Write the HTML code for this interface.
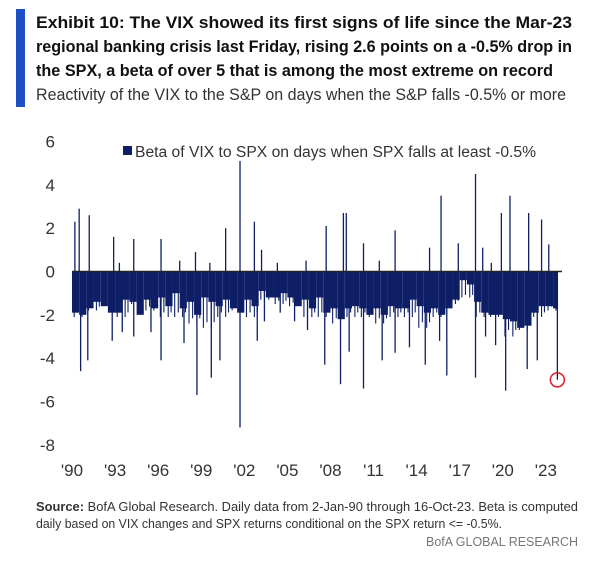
<!DOCTYPE html>
<html><head><meta charset="utf-8"><style>
html,body{margin:0;padding:0;background:#fff;}
svg{display:block;font-family:"Liberation Sans",sans-serif;}
</style></head><body>
<svg id="chart" width="615" height="564" viewBox="0 0 615 564">
<rect x="16" y="9" width="9" height="98" fill="#1f4fc4"/>
<g font-weight="bold" font-size="17" fill="#111">
<text x="36" y="28" textLength="536" lengthAdjust="spacingAndGlyphs">Exhibit 10: The VIX showed its first signs of life since the Mar-23</text>
<text x="36" y="52" textLength="536" lengthAdjust="spacingAndGlyphs">regional banking crisis last Friday, rising 2.6 points on a -0.5% drop in</text>
<text x="36" y="76" textLength="517" lengthAdjust="spacingAndGlyphs">the SPX, a beta of over 5 that is among the most extreme on record</text>
</g>
<text x="36" y="100" font-size="16.5" fill="#333" textLength="530" lengthAdjust="spacingAndGlyphs">Reactivity of the VIX to the S&amp;P on days when the S&amp;P falls -0.5% or more</text>
<g>
<rect x="123" y="146" width="9" height="9" fill="#0e1f66"/>
<text x="135" y="157" font-size="15.5" fill="#333" textLength="401" lengthAdjust="spacingAndGlyphs">Beta of VIX to SPX on days when SPX falls at least -0.5%</text>
</g>
<g id="yaxis"></g>
<g id="xaxis"></g>
<g id="bars"></g>
<g font-size="12.5" fill="#333">
<text x="36" y="511" textLength="542" lengthAdjust="spacingAndGlyphs"><tspan font-weight="bold">Source:</tspan>  BofA Global Research.  Daily data from 2-Jan-90 through 16-Oct-23.   Beta is computed</text>
<text x="36" y="528" textLength="466" lengthAdjust="spacingAndGlyphs">daily based on VIX changes and SPX returns conditional on the SPX return &lt;= -0.5%.</text>
<text x="578" y="546" text-anchor="end" fill="#777" textLength="152" lengthAdjust="spacingAndGlyphs">BofA GLOBAL RESEARCH</text>
</g>
</svg>
<script>
const years = [1990,1991,1992,1993,1994,1995,1996,1997,1998,1999,2000,2001,2002,2003,2004,2005,2006,2007,2008,2009,2010,2011,2012,2013,2014,2015,2016,2017,2018,2019,2020,2021,2022,2023];
const halfYearBody = [-1.9,-2.0,-1.7,-1.4,-1.6,-1.9,-1.9,-1.3,-1.4,-2.0,-1.3,-1.7,-1.2,-1.6,-1.0,-1.7,-1.4,-2.0,-1.2,-1.4,-1.6,-1.3,-1.7,-1.9,-1.3,-1.6,-0.9,-1.2,-1.2,-1.0,-1.2,-1.6,-1.3,-1.7,-1.2,-1.9,-1.7,-2.2,-1.7,-1.6,-1.7,-2.0,-1.7,-2.0,-1.6,-1.7,-1.7,-1.3,-1.6,-1.9,-1.7,-2.0,-1.7,-1.3,-0.4,-0.6,-1.4,-1.9,-2.0,-2.0,-2.2,-2.3,-2.6,-2.5,-1.9,-1.6,-1.6,-1.7];
const typicalSpike = [-2.1,-1.8,-1.6,-2.1,-1.5,-1.8,-2.1,-2.1,-2.4,-2.6,-2.1,-1.8,-2.1,-1.3,-1.5,-1.6,-2.1,-2.1,-2.4,-2.1,-2.1,-2.4,-2.1,-2.1,-2.6,-2.1,-1.5,-1.2,-2.1,-2.1,-3.0,-2.7,-2.1,-1.8];
const lowDates = [1990.6,1991.1,1992.8,1993.5,1994.3,1995.5,1996.2,1997.8,1998.7,1999.7,2000.3,2001.7,2002.9,2003.4,2004.5,2005.5,2006.4,2007.6,2008.7,2009.3,2010.3,2011.6,2012.5,2013.5,2014.6,2015.6,2016.1,2018.1,2018.8,2019.5,2020.2,2021.7,2022.4,2023.8];
const lowValues = [-4.6,-4.1,-3.2,-2.8,-3.0,-2.8,-4.1,-3.3,-5.7,-4.9,-4.1,-7.2,-3.2,-2.3,-1.9,-2.3,-2.7,-4.3,-5.2,-3.7,-5.4,-4.1,-3.75,-3.5,-4.3,-3.2,-4.8,-4.9,-3.0,-3.4,-5.5,-4.5,-4.1,-5.0];
const highDates = [1990.2,1990.5,1991.2,1992.9,1993.3,1994.3,1996.2,1997.5,1998.6,1999.6,2000.7,2001.7,2002.7,2003.2,2004.3,2006.3,2007.7,2008.9,2009.1,2010.3,2011.4,2012.5,2014.9,2015.7,2016.9,2018.1,2018.6,2019.2,2019.9,2020.5,2021.8,2022.7,2023.2];
const highValues = [2.3,2.9,2.6,1.6,0.4,1.5,1.5,0.5,0.9,0.4,2.0,5.1,2.3,1.0,0.4,0.5,2.1,2.7,2.7,1.3,0.5,1.9,1.1,3.5,1.3,4.5,1.1,0.4,2.7,3.5,2.7,2.4,1.25];
const yTicks = [6,4,2,0,-2,-4,-6,-8];
const xTickYears = [1990,1993,1996,1999,2002,2005,2008,2011,2014,2017,2020,2023];
const xTickLabels = ["'90","'93","'96","'99","'02","'05","'08","'11","'14","'17","'20","'23"];
const lastDate = 2023.8, lastValue = -5.0;

const NS="http://www.w3.org/2000/svg";
const X = d => 72 + (d-1990)*14.36;
const Y = v => 271.5 - v*21.67;
function mk(tag, attrs, parent){const e=document.createElementNS(NS,tag);for(const k in attrs)e.setAttribute(k,attrs[k]);parent.appendChild(e);return e;}
const ya=document.getElementById('yaxis'), xa=document.getElementById('xaxis'), bars=document.getElementById('bars');
yTicks.forEach(t=>{const e=mk('text',{x:55,y:Y(t)+6,'text-anchor':'end','font-size':17,fill:'#333'},ya);e.textContent=String(t);

});
xTickYears.forEach((yr,i)=>{const e=mk('text',{x:X(yr),y:476,'text-anchor':'middle','font-size':17,fill:'#333'},xa);e.textContent=xTickLabels[i];

});
const col="#0e1f66";
halfYearBody.forEach((v,i)=>{const d=1990+i*0.5; const x0=X(d), x1=Math.min(X(d+0.5),X(lastDate));
const r=mk('rect',{x:x0,y:Y(0),width:Math.max(0,x1-x0),height:Y(v)-Y(0),fill:col},bars);

});
years.forEach((yr,i)=>{[0.15,0.4,0.7,0.9].forEach((f,j)=>{const d=yr+f; if(d>lastDate)return;
const v=typicalSpike[i]*(j%2?0.9:1);
const l=mk('line',{x1:X(d),x2:X(d),y1:Y(0),y2:Y(v),stroke:col,'stroke-width':1.1},bars);

});});
lowDates.forEach((d,i)=>{const l=mk('line',{x1:X(d),x2:X(d),y1:Y(0),y2:Y(lowValues[i]),stroke:col,'stroke-width':1.3},bars);

});
highDates.forEach((d,i)=>{const l=mk('line',{x1:X(d),x2:X(d),y1:Y(0),y2:Y(highValues[i]),stroke:col,'stroke-width':1.3},bars);

});
const z=mk('line',{x1:72,x2:562,y1:Y(0),y2:Y(0),stroke:'#222','stroke-width':1.5},bars);


const c=mk('circle',{cx:X(lastDate),cy:Y(lastValue),r:7,fill:'none',stroke:'#e01b24','stroke-width':1.5},bars);


</script>
</body></html>
